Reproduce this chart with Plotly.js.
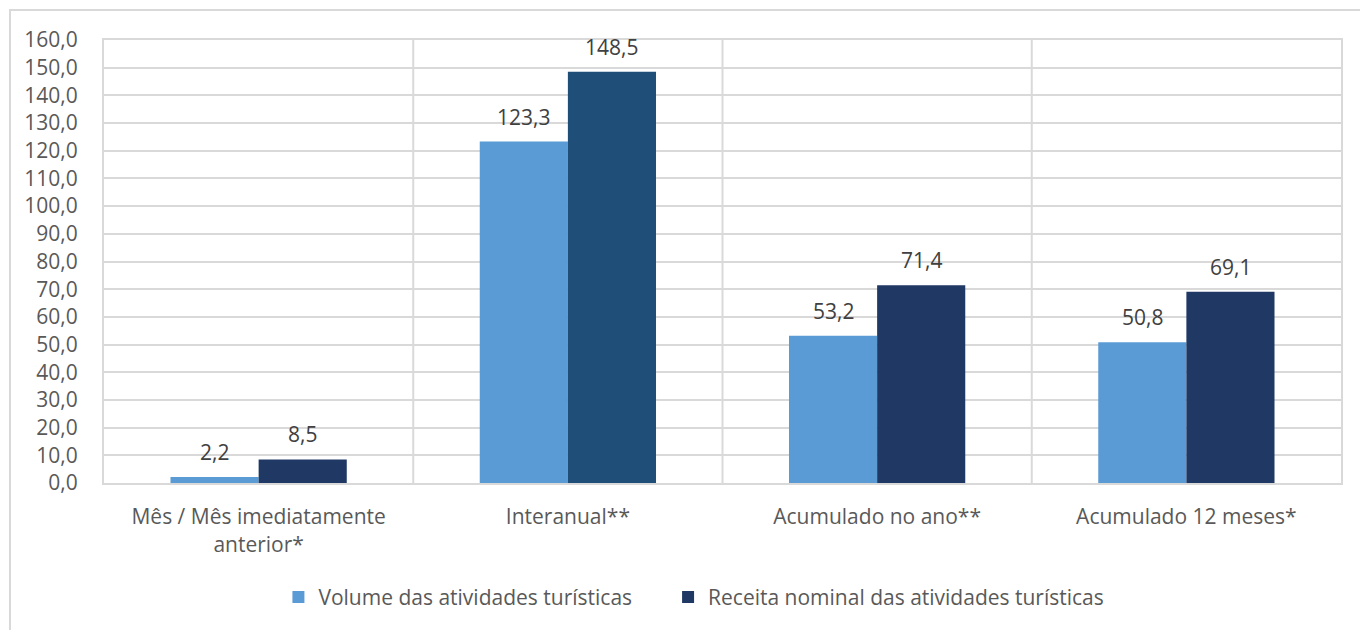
<!DOCTYPE html>
<html>
<head>
<meta charset="utf-8">
<script src="https://cdn.plot.ly/plotly-3.0.1.min.js"></script>
<style>
html,body{margin:0;padding:0;background:#fff;overflow:hidden;}
#chart{width:1360px;height:630px;position:absolute;left:0;top:0;}
#frame{position:absolute;left:9px;top:9px;width:1400px;height:700px;border-left:2px solid #d9d9d9;border-top:2px solid #d9d9d9;pointer-events:none;}
</style>
</head>
<body>
<div id="chart"></div>
<div id="frame"></div>
<script>
const categories = ["Mês / Mês imediatamente<br>anterior*", "Interanual**", "Acumulado no ano**", "Acumulado 12 meses*"];
const volume = [2.2, 123.3, 53.2, 50.8];
const receita = [8.5, 148.5, 71.4, 69.1];
const seriesNames = ["Volume das atividades turísticas", "Receita nominal das atividades turísticas"];
const yTicks = [0,10,20,30,40,50,60,70,80,90,100,110,120,130,140,150,160];

const fmt = v => v.toFixed(1).replace('.', ',');
const FONT = "Open Sans, Noto Sans, sans-serif";
const FS = 21;
const lightBlue = "#5b9bd5";
const darkColors = ["#203864", "#1f4e79", "#203864", "#203864"];

const traces = [
  {type:'bar', name:seriesNames[0], x:categories, y:volume,
   marker:{color:lightBlue}, hoverinfo:'skip', legend:'legend'},
  {type:'bar', name:seriesNames[1], x:categories, y:receita,
   marker:{color:darkColors}, hoverinfo:'skip', legend:'legend2'}
];

const annotations = [];
categories.forEach((c,i)=>{
  annotations.push({x:c, y:volume[i], xref:'x', yref:'y', text:fmt(volume[i]), showarrow:false,
    yanchor:'bottom', xshift:-44, yshift:9, font:{family:FONT, size:FS, color:'#404040'}});
  annotations.push({x:c, y:receita[i], xref:'x', yref:'y', text:fmt(receita[i]), showarrow:false,
    yanchor:'bottom', xshift:44, yshift:9, font:{family:FONT, size:FS, color:'#404040'}});
});

const shapes = [0.5,1.5,2.5].map(v=>({type:'line', xref:'x', yref:'paper', x0:v, x1:v, y0:0, y1:1,
  line:{color:'#d9d9d9', width:2}, layer:'below'}));

const legendBase = {orientation:'h', xanchor:'left', y:-0.258, yanchor:'middle',
  font:{family:FONT, size:FS, color:'#595959'}, bgcolor:'rgba(0,0,0,0)'};

const layout = {
  width:1360, height:630,
  margin:{l:104, r:19, t:40, b:145},
  paper_bgcolor:'#fff', plot_bgcolor:'#fff',
  barmode:'group', bargap:0.43, bargroupgap:0,
  font:{family:FONT, size:FS, color:'#595959'},
  xaxis:{type:'category', showgrid:false, showline:true, linecolor:'#d9d9d9', linewidth:2, mirror:true,
    ticks:'', ticklabelstandoff:14, tickangle:0, tickfont:{family:FONT, size:FS, color:'#595959'}, automargin:false, fixedrange:true},
  yaxis:{range:[0,160], tickvals:yTicks, ticktext:yTicks.map(fmt), showgrid:true, gridcolor:'#d9d9d9', gridwidth:2,
    showline:true, linecolor:'#d9d9d9', linewidth:2, mirror:true, zeroline:false, ticks:'', ticklabelstandoff:20,
    tickfont:{family:FONT, size:FS, color:'#595959'}, automargin:false, fixedrange:true},
  showlegend:true,
  legend:Object.assign({}, legendBase, {x:0.141}),
  legend2:Object.assign({}, legendBase, {x:0.456}),
  annotations:annotations,
  shapes:shapes
};

Plotly.newPlot('chart', traces, layout, {staticPlot:true, displayModeBar:false});
</script>
</body>
</html>
